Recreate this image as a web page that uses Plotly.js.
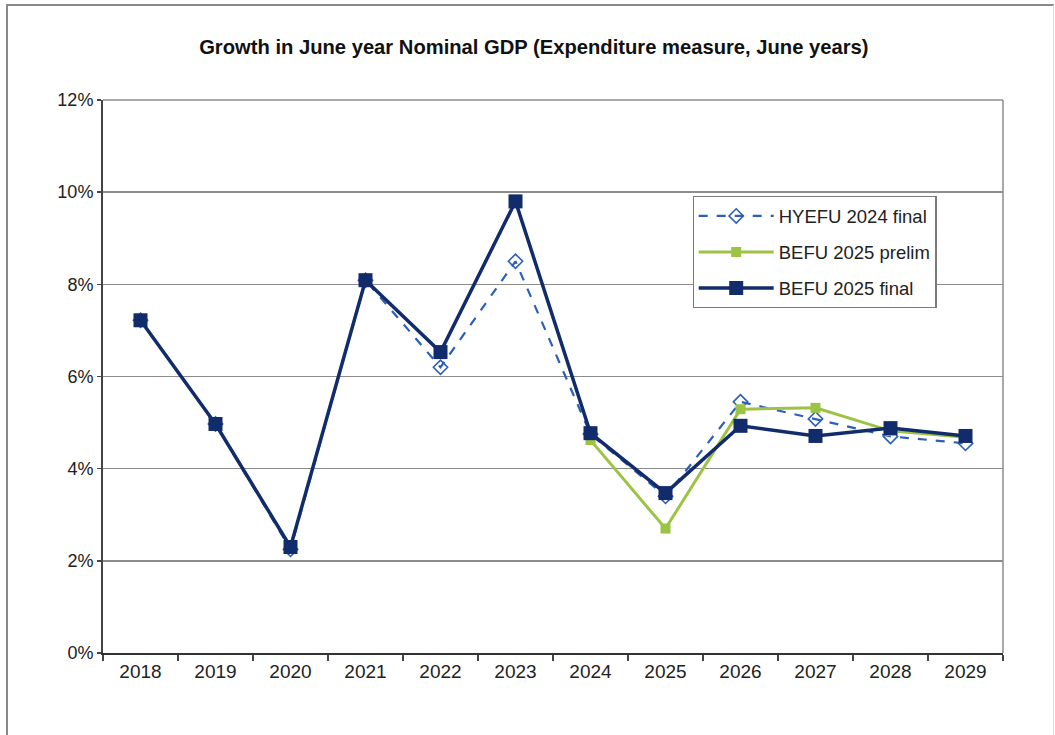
<!DOCTYPE html>
<html>
<head>
<meta charset="utf-8">
<script src="https://cdn.plot.ly/plotly-3.0.1.min.js"></script>
<style>
  html, body { margin: 0; padding: 0; background: #ffffff; }
  #frame { position: absolute; left: 6px; top: 4px; width: 1045px; height: 740px;
           border-left: 2px solid #8a8a8a; border-top: 2px solid #8a8a8a; border-right: 1px solid #dddddd; }
  #chart { position: absolute; left: 0; top: 0; width: 1055px; height: 735px; }
</style>
</head>
<body>
<div id="frame"></div>
<div id="chart"></div>
<script>
const years = ['2018','2019','2020','2021','2022','2023','2024','2025','2026','2027','2028','2029'];
const hyefu2024Final = [7.22, 4.97, 2.25, 8.09, 6.20, 8.50, 4.75, 3.40, 5.45, 5.08, 4.70, 4.55];
const befu2025Prelim = [null, null, null, null, null, null, 4.62, 2.70, 5.29, 5.32, 4.82, 4.68];
const befu2025Final  = [7.22, 4.97, 2.30, 8.09, 6.53, 9.80, 4.77, 3.47, 4.93, 4.71, 4.88, 4.71];
const yTickVals = [0, 2, 4, 6, 8, 10, 12];
const yTickText = ['0%', '2%', '4%', '6%', '8%', '10%', '12%'];
const forecastStart = '2024';

const font = 'Liberation Sans, Arial, sans-serif';

const traces = [
  {
    x: years, y: hyefu2024Final, name: 'HYEFU 2024 final', type: 'scatter', mode: 'lines+markers',
    legendgroup: 'a',
    line: { color: '#2b5fb8', width: 2.2, dash: 'dash' },
    marker: { symbol: 'diamond-open', size: 11, color: '#2b5fb8', line: { width: 1.6, color: '#2b5fb8' } }
  },
  {
    x: years, y: befu2025Prelim, name: 'BEFU 2025 prelim', type: 'scatter', mode: 'lines+markers',
    legendgroup: 'b',
    line: { color: '#9cc346', width: 3 },
    marker: { symbol: 'square', size: 10, color: '#9cc346' }
  },
  {
    x: years, y: befu2025Final, name: 'BEFU 2025 final', type: 'scatter', mode: 'lines+markers',
    legendgroup: 'c',
    line: { color: '#112b6b', width: 3.5 },
    marker: { symbol: 'square', size: 14, color: '#112b6b' }
  }
];

const layout = {
  width: 1055, height: 735,
  margin: { l: 103, r: 52, t: 100, b: 82 },
  paper_bgcolor: 'rgba(0,0,0,0)', plot_bgcolor: '#ffffff',
  font: { family: font, color: '#222222', size: 19 },
  title: {
    text: '<b>Growth in June year Nominal GDP (Expenditure measure, June years)</b>',
    font: { family: font, size: 20.2, color: '#111111' },
    x: 0.506, xref: 'container', xanchor: 'center', y: 0.936, yref: 'container', yanchor: 'middle'
  },
  showlegend: true,
  legend: {
    x: 0.655, y: 0.826, xanchor: 'left', yanchor: 'top',
    bgcolor: '#ffffff', bordercolor: '#7a7a7a', borderwidth: 1.2,
    font: { family: font, size: 18.5, color: '#222222' },
    traceorder: 'grouped', tracegroupgap: 9, itemwidth: 75
  },
  xaxis: {
    type: 'category', range: [-0.5, 11.5],
    tickmode: 'array', tickvals: years, ticktext: years,
    tickson: 'boundaries', ticks: 'outside', ticklen: 6, tickcolor: '#444444', tickwidth: 1.5,
    showline: true, linecolor: '#333333', linewidth: 2, mirror: false,
    showgrid: false, zeroline: false,
    tickfont: { family: font, size: 19, color: '#222222' }
  },
  yaxis: {
    range: [0, 12], tickmode: 'array', tickvals: yTickVals, ticktext: yTickText,
    ticks: 'outside', ticklen: 4, tickcolor: '#444444', tickwidth: 1.5,
    showline: true, linecolor: '#444444', linewidth: 2, mirror: false,
    showgrid: true, gridcolor: '#8c8c8c', gridwidth: 1.5, zeroline: false,
    tickfont: { family: font, size: 18, color: '#222222' }
  },
  shapes: [
    { type: 'line', xref: 'x', yref: 'y', x0: forecastStart, x1: forecastStart, y0: 0, y1: 12,
      line: { color: '#222222', width: 1.5 } },
    { type: 'line', xref: 'paper', yref: 'paper', x0: 1, x1: 1, y0: 0, y1: 1,
      line: { color: '#8c8c8c', width: 1.5 } },
    { type: 'line', xref: 'paper', yref: 'paper', x0: 0, x1: 1, y0: 1, y1: 1,
      line: { color: '#8c8c8c', width: 1.5 } }
  ]
};

Plotly.newPlot('chart', traces, layout, { displayModeBar: false, staticPlot: true });
</script>
</body>
</html>
